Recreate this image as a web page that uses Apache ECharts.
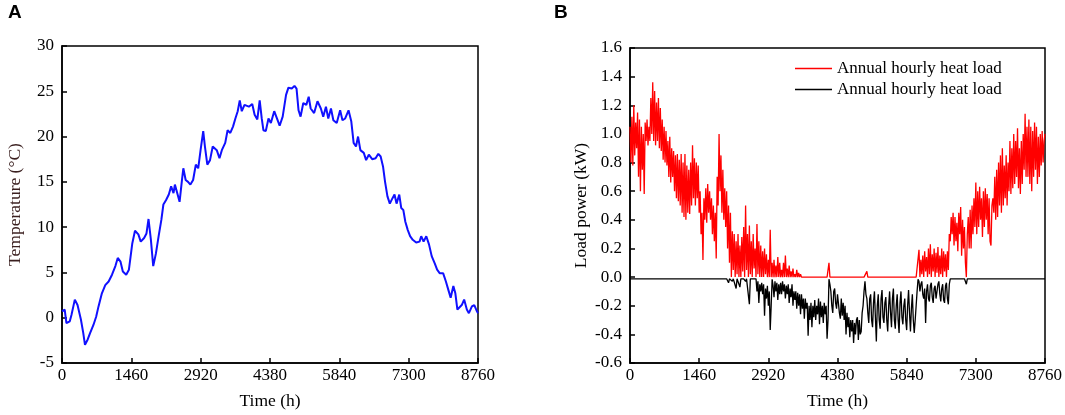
<!DOCTYPE html>
<html>
<head>
<meta charset="utf-8">
<title>Temperature and load power</title>
<script src="https://cdn.jsdelivr.net/npm/echarts/dist/echarts.min.js"></script>
<style>
    html, body { margin: 0; padding: 0; background: #fff; }
    #main { width: 1065px; height: 415px; }
</style>
</head>
<body>
<div id="main"></div>
<script>
// ---- data ----
var timeTicks = [0, 1460, 2920, 4380, 5840, 7300, 8760];

// panel A: outdoor temperature (hour, degC)
var tempHours = [0, 57, 93, 164, 199, 270, 327, 398, 448, 484, 541, 591, 662, 719, 769, 840, 911, 982, 1053, 1124,
    1174, 1231, 1281, 1352, 1409, 1480, 1537, 1608, 1658, 1729, 1779, 1822, 1872, 1921, 1978, 2035, 2092, 2135, 2192, 2249,
    2298, 2348, 2377, 2419, 2476, 2526, 2555, 2604, 2654, 2704, 2761, 2818, 2868, 2918, 2974, 3010, 3060, 3117, 3174, 3259,
    3316, 3366, 3437, 3487, 3544, 3601, 3651, 3700, 3743, 3786, 3843, 3935, 4006, 4056, 4113, 4163, 4206, 4241, 4291, 4348,
    4398, 4469, 4526, 4583, 4647, 4718, 4768, 4839, 4896, 4939, 4981, 5024, 5081, 5145, 5195, 5237, 5309, 5380, 5451, 5501,
    5558, 5607, 5664, 5714, 5785, 5857, 5906, 5963, 6034, 6091, 6141, 6191, 6234, 6283, 6355, 6404, 6461, 6532, 6604, 6661,
    6710, 6760, 6803, 6853, 6903, 6960, 7002, 7045, 7102, 7144, 7187, 7230, 7280, 7330, 7386, 7458, 7529, 7564, 7614, 7671,
    7728, 7785, 7849, 7899, 7956, 8027, 8084, 8134, 8184, 8241, 8283, 8326, 8368, 8418, 8468, 8525, 8568, 8632, 8682, 8738,
    8760];
var tempValues = [0.7, 0.9, -0.6, -0.4, 0.3, 2.0, 1.4, -0.2, -1.7, -3.0, -2.4, -1.7, -0.8, 0.1, 1.25, 2.7, 3.6, 4.0, 4.75, 5.7,
    6.6, 6.2, 5.1, 4.75, 5.3, 8.2, 9.6, 9.2, 8.4, 8.8, 9.3, 10.9, 8.6, 5.7, 7.1, 9.0, 10.8, 12.5, 13.0, 13.6,
    14.5, 13.75, 14.7, 13.9, 12.8, 15.2, 16.5, 15.2, 15.0, 14.7, 15.2, 16.9, 16.5, 18.5, 20.6, 18.9, 16.9, 17.4, 18.9, 18.5,
    17.6, 18.5, 19.3, 20.7, 20.4, 21.1, 22.0, 22.8, 24.0, 22.8, 23.5, 23.3, 23.6, 22.4, 21.9, 24.0, 22.0, 20.7, 20.6, 22.0,
    21.5, 22.8, 22.0, 21.2, 22.2, 24.6, 25.4, 25.3, 25.6, 25.3, 22.9, 22.2, 23.7, 23.5, 24.4, 23.1, 22.6, 23.9, 23.1, 22.2,
    23.3, 22.0, 23.1, 21.8, 21.5, 22.9, 21.8, 22.0, 22.9, 21.7, 19.3, 18.9, 20.0, 18.5, 18.2, 17.4, 18.0, 17.5, 17.6, 18.1,
    17.8, 16.7, 15.0, 13.4, 12.6, 13.2, 13.6, 12.6, 13.6, 12.1, 11.9, 10.6, 9.7, 9.0, 8.6, 8.3, 8.4, 9.0, 8.4, 9.0,
    8.1, 6.8, 6.0, 5.3, 4.9, 4.9, 4.0, 3.1, 2.2, 3.5, 2.7, 0.9, 0.7, 1.4, 2.0, 0.9, 0.5, 1.25, 1.4, 0.7,
    0.5];

// panel B: hourly load, one reading every loadStep hours (kW), 20 readings per row
var loadStep = 20;
var heatLoad = [
    1.05, 0.8, 1.12, 0.78, 1.2, 0.85, 1.08, 0.9, 1.15, 0.7, 1.1, 0.6, 1.05, 0.75, 1.0, 0.58, 1.08, 0.95, 1.1, 0.92,
    1.05, 0.95, 1.25, 1.0, 1.36, 0.95, 1.3, 0.92, 1.22, 0.95, 1.25, 0.9, 1.18, 0.88, 1.1, 0.82, 1.05, 0.8, 1.02, 0.78,
    0.95, 0.7, 0.98, 0.66, 0.9, 0.7, 0.88, 0.6, 0.85, 0.55, 0.86, 0.53, 0.82, 0.5, 0.86, 0.45, 0.8, 0.42, 0.86, 0.4,
    0.78, 0.45, 0.75, 0.44, 0.8, 0.5, 0.92, 0.55, 0.83, 0.5, 0.8, 0.55, 0.78, 0.45, 0.6, 0.3, 0.45, 0.12, 0.55, 0.4,
    0.62, 0.38, 0.65, 0.45, 0.6, 0.4, 0.55, 0.3, 0.5, 0.25, 0.45, 0.13, 0.7, 0.5, 1.0, 0.6, 0.85, 0.45, 0.75, 0.4,
    0.62, 0.35, 0.6, 0.2, 0.5, 0.1, 0.45, 0.0, 0.32, 0.05, 0.3, 0.0, 0.25, 0.02, 0.3, 0.0, 0.22, 0.0, 0.28, 0.04,
    0.35, 0.0, 0.5, 0.05, 0.3, 0.0, 0.36, 0.02, 0.25, 0.0, 0.3, 0.06, 0.2, 0.0, 0.37, 0.02, 0.25, 0.0, 0.22, 0.0,
    0.18, 0.0, 0.2, 0.02, 0.16, 0.0, 0.12, 0.0, 0.33, 0.0, 0.1, 0.0, 0.12, 0.0, 0.08, 0.0, 0.14, 0.0, 0.1, 0.0,
    0.05, 0.0, 0.1, 0.0, 0.15, 0.0, 0.06, 0.0, 0.08, 0.0, 0.04, 0.0, 0.06, 0.0, 0.02, 0.0, 0.05, 0.0, 0.03, 0.0,
    0.02, 0, 0, 0, 0, 0, 0, 0, 0, 0, 0, 0, 0, 0, 0, 0, 0, 0, 0, 0,
    0, 0, 0, 0, 0, 0, 0, 0, 0, 0, 0.1, 0, 0, 0, 0, 0, 0, 0, 0, 0,
    0, 0, 0, 0, 0, 0, 0, 0, 0.01, 0, 0, 0, 0, 0, 0, 0, 0, 0, 0, 0,
    0, 0, 0, 0, 0, 0, 0, 0, 0, 0, 0.04, 0, 0, 0, 0, 0, 0, 0, 0, 0,
    0, 0, 0, 0, 0, 0, 0, 0, 0, 0, 0, 0, 0, 0, 0, 0, 0, 0, 0, 0,
    0.01, 0, 0, 0, 0, 0, 0.01, 0, 0, 0, 0, 0, 0, 0, 0, 0, 0, 0, 0, 0,
    0, 0, 0, 0, 0, 0.19, 0.0, 0.12, 0.02, 0.15, 0.0, 0.18, 0.04, 0.14, 0.0, 0.2, 0.02, 0.23, 0.0, 0.16,
    0.04, 0.2, 0.0, 0.17, 0.03, 0.21, 0.0, 0.15, 0.02, 0.2, 0.0, 0.18, 0.04, 0.16, 0.0, 0.18, 0.05, 0.3, 0.25, 0.42,
    0.3, 0.45, 0.22, 0.42, 0.25, 0.38, 0.18, 0.45, 0.3, 0.49, 0.15, 0.4, 0.2, 0.35, 0.1, 0.0, 0.3, 0.42, 0.2, 0.47,
    0.2, 0.5, 0.3, 0.55, 0.35, 0.66, 0.3, 0.6, 0.35, 0.63, 0.4, 0.55, 0.28, 0.6, 0.35, 0.62, 0.4, 0.58, 0.3, 0.55,
    0.25, 0.22, 0.5, 0.55, 0.45, 0.7, 0.4, 0.75, 0.42, 0.8, 0.5, 0.85, 0.45, 0.9, 0.5, 0.78, 0.55, 0.85, 0.5, 0.8,
    0.6, 0.95, 0.58, 0.9, 0.62, 1.0, 0.65, 0.95, 0.7, 1.04, 0.62, 0.9, 0.58, 0.95, 0.65, 1.0, 0.75, 1.14, 0.7, 1.05,
    0.7, 1.1, 0.65, 1.05, 0.6, 1.02, 0.7, 1.08, 0.75, 1.05, 0.65, 0.98, 0.7, 1.0, 0.78, 1.02, 0.8, 0.95, 1.0
];
var coolLoad = [
    -0.012, -0.012, -0.012, -0.012, -0.012, -0.012, -0.012, -0.012, -0.012, -0.012, -0.012, -0.012, -0.012, -0.012, -0.012, -0.012, -0.012, -0.012, -0.012, -0.012,
    -0.012, -0.012, -0.012, -0.012, -0.012, -0.012, -0.012, -0.012, -0.012, -0.012, -0.012, -0.012, -0.012, -0.012, -0.012, -0.012, -0.012, -0.012, -0.012, -0.012,
    -0.012, -0.012, -0.012, -0.012, -0.012, -0.012, -0.012, -0.012, -0.012, -0.012, -0.012, -0.012, -0.012, -0.012, -0.012, -0.012, -0.012, -0.012, -0.012, -0.012,
    -0.012, -0.012, -0.012, -0.012, -0.012, -0.012, -0.012, -0.012, -0.012, -0.012, -0.012, -0.012, -0.012, -0.012, -0.012, -0.012, -0.012, -0.012, -0.012, -0.012,
    -0.012, -0.012, -0.012, -0.012, -0.012, -0.012, -0.012, -0.012, -0.012, -0.012, -0.012, -0.012, -0.012, -0.012, -0.012, -0.012, -0.012, -0.012, -0.012, -0.012,
    -0.012, -0.012, -0.012, -0.012, -0.04, -0.012, -0.012, -0.012, -0.03, -0.012, -0.012, -0.012, -0.08, -0.012, -0.012, -0.012, -0.07, -0.012, -0.012, -0.012,
    -0.012, -0.012, -0.03, -0.012, -0.012, -0.012, -0.19, -0.012, -0.012, -0.012, -0.012, -0.012, -0.02, -0.012, -0.1, -0.03, -0.18, -0.05, -0.1, -0.04,
    -0.12, -0.05, -0.27, -0.08, -0.15, -0.06, -0.2, -0.1, -0.37, -0.2, -0.015, -0.06, -0.14, -0.03, -0.1, -0.04, -0.16, -0.05, -0.12, -0.04,
    -0.12, -0.03, -0.1, -0.05, -0.15, -0.06, -0.12, -0.05, -0.18, -0.08, -0.14, -0.05, -0.2, -0.1, -0.16, -0.1, -0.22, -0.11, -0.2, -0.12,
    -0.26, -0.12, -0.22, -0.15, -0.29, -0.15, -0.22, -0.18, -0.41, -0.2, -0.3, -0.18, -0.35, -0.2, -0.28, -0.16, -0.3, -0.2, -0.26, -0.15,
    -0.33, -0.17, -0.28, -0.2, -0.32, -0.18, -0.26, -0.2, -0.43, -0.3, -0.015, -0.05, -0.1, -0.2, -0.25, -0.1, -0.08, -0.18, -0.22, -0.12,
    -0.12, -0.25, -0.29, -0.15, -0.27, -0.18, -0.3, -0.2, -0.4, -0.25, -0.35, -0.28, -0.42, -0.3, -0.38, -0.3, -0.46, -0.32, -0.4, -0.3,
    -0.28, -0.44, -0.3, -0.4, -0.38, -0.25, -0.2, -0.1, -0.03, -0.12, -0.15, -0.25, -0.32, -0.15, -0.12, -0.3, -0.35, -0.18, -0.1, -0.28,
    -0.45, -0.2, -0.12, -0.3, -0.36, -0.15, -0.09, -0.28, -0.32, -0.18, -0.14, -0.3, -0.38, -0.2, -0.1, -0.25, -0.35, -0.15, -0.08, -0.3,
    -0.36, -0.2, -0.12, -0.3, -0.39, -0.18, -0.1, -0.28, -0.33, -0.2, -0.15, -0.3, -0.37, -0.2, -0.09, -0.25, -0.38, -0.22, -0.12, -0.3,
    -0.39, -0.3, -0.2, -0.1, -0.015, -0.03, -0.1, -0.05, -0.03, -0.12, -0.15, -0.08, -0.32, -0.1, -0.05, -0.15, -0.17, -0.06, -0.04, -0.14,
    -0.18, -0.08, -0.06, -0.15, -0.15, -0.05, -0.03, -0.12, -0.17, -0.08, -0.05, -0.16, -0.18, -0.06, -0.04, -0.15, -0.19, -0.05, -0.012, -0.012,
    -0.012, -0.012, -0.012, -0.012, -0.012, -0.012, -0.012, -0.012, -0.012, -0.012, -0.012, -0.012, -0.012, -0.012, -0.012, -0.05, -0.012, -0.012, -0.012, -0.012,
    -0.012, -0.012, -0.012, -0.012, -0.012, -0.012, -0.012, -0.012, -0.012, -0.012, -0.012, -0.012, -0.012, -0.012, -0.012, -0.012, -0.012, -0.012, -0.012, -0.012,
    -0.012, -0.012, -0.012, -0.012, -0.012, -0.012, -0.012, -0.012, -0.012, -0.012, -0.012, -0.012, -0.012, -0.012, -0.012, -0.012, -0.012, -0.012, -0.012, -0.012,
    -0.012, -0.012, -0.012, -0.012, -0.012, -0.012, -0.012, -0.012, -0.012, -0.012, -0.012, -0.012, -0.012, -0.012, -0.012, -0.012, -0.012, -0.012, -0.012, -0.012,
    -0.012, -0.012, -0.012, -0.012, -0.012, -0.012, -0.012, -0.012, -0.012, -0.012, -0.012, -0.012, -0.012, -0.012, -0.012, -0.012, -0.012, -0.012, -0.012
];

var heatName = 'Annual hourly heat load';
var coolName = 'Annual hourly heat load '; // same text, legend needs a distinct name

// ---- build [x, y] pairs ----
var tempData = tempHours.map(function (h, i) { return [h, tempValues[i]]; });
var heatData = heatLoad.map(function (v, i) { return [i * loadStep, v]; });
var coolData = coolLoad.map(function (v, i) { return [i * loadStep, v]; });

var serif = 'Liberation Serif';
var axisText = { fontFamily: serif, fontSize: 17, color: '#000' };
var nameText = { fontFamily: serif, fontSize: 17.5, color: '#000' };
var blackLine = { color: '#000', width: 1.5 };

function timeAxis(idx) {
    return {
        type: 'value',
        gridIndex: idx,
        min: timeTicks[0],
        max: timeTicks[timeTicks.length - 1],
        interval: 1460,
        name: 'Time (h)',
        nameLocation: 'middle',
        nameGap: 29,
        nameTextStyle: nameText,
        axisLine: { show: true, onZero: false, lineStyle: blackLine },
        axisTick: { show: true, inside: true, length: 5, lineStyle: blackLine },
        axisLabel: Object.assign({
            margin: 4,
            formatter: function (v) { return String(v); }
        }, axisText),
        splitLine: { show: false }
    };
}

var myChart = echarts.init(document.getElementById('main'));

var option = {
    animation: false,
    backgroundColor: '#fff',
    graphic: [
        { type: 'text', left: 8, top: 3, style: { text: 'A', font: 'bold 19px "Liberation Sans"', fill: '#000' } },
        { type: 'text', left: 554, top: 3, style: { text: 'B', font: 'bold 19px "Liberation Sans"', fill: '#000' } }
    ],
    grid: [
        { left: 62, right: 587, top: 46, bottom: 52, show: true, borderColor: '#000', borderWidth: 1.5 },
        { left: 630, right: 20, top: 48, bottom: 47, show: true, borderColor: '#000', borderWidth: 1.5 }
    ],
    legend: {
        data: [heatName, coolName],
        orient: 'vertical',
        left: 795,
        top: 60,
        padding: 0,
        itemWidth: 37,
        itemHeight: 1.5,
        itemGap: 4,
        icon: 'rect',
        textStyle: { fontFamily: serif, fontSize: 17, color: '#000' }
    },
    xAxis: [timeAxis(0), timeAxis(1)],
    yAxis: [
        {
            type: 'value',
            gridIndex: 0,
            min: -5,
            max: 30,
            interval: 5,
            name: 'Temperature (°C)',
            nameLocation: 'middle',
            nameGap: 38,
            nameTextStyle: Object.assign({}, nameText, { color: '#3a1f1f' }),
            axisLine: { show: true, onZero: false, lineStyle: blackLine },
            axisTick: { show: true, inside: true, length: 5, lineStyle: blackLine },
            axisLabel: Object.assign({ margin: 8 }, axisText),
            splitLine: { show: false }
        },
        {
            type: 'value',
            gridIndex: 1,
            min: -0.6,
            max: 1.6,
            interval: 0.2,
            name: 'Load power (kW)',
            nameLocation: 'middle',
            nameGap: 40,
            nameTextStyle: nameText,
            axisLine: { show: true, onZero: false, lineStyle: blackLine },
            axisTick: { show: true, inside: true, length: 5, lineStyle: blackLine },
            axisLabel: Object.assign({
                margin: 8,
                formatter: function (v) { return Math.abs(v) < 1e-9 ? '0.0' : v.toFixed(1); }
            }, axisText),
            splitLine: { show: false }
        }
    ],
    series: [
        {
            name: 'Temperature',
            type: 'line',
            xAxisIndex: 0,
            yAxisIndex: 0,
            data: tempData,
            showSymbol: false,
            lineStyle: { color: '#1010ff', width: 2 },
            itemStyle: { color: '#1010ff' }
        },
        {
            name: coolName,
            type: 'line',
            xAxisIndex: 1,
            yAxisIndex: 1,
            data: coolData,
            showSymbol: false,
            lineStyle: { color: '#000', width: 1.3 },
            itemStyle: { color: '#000' }
        },
        {
            name: heatName,
            type: 'line',
            xAxisIndex: 1,
            yAxisIndex: 1,
            data: heatData,
            showSymbol: false,
            lineStyle: { color: '#ff0000', width: 1.3 },
            itemStyle: { color: '#ff0000' }
        }
    ]
};
myChart.setOption(option);
</script>
</body>
</html>
